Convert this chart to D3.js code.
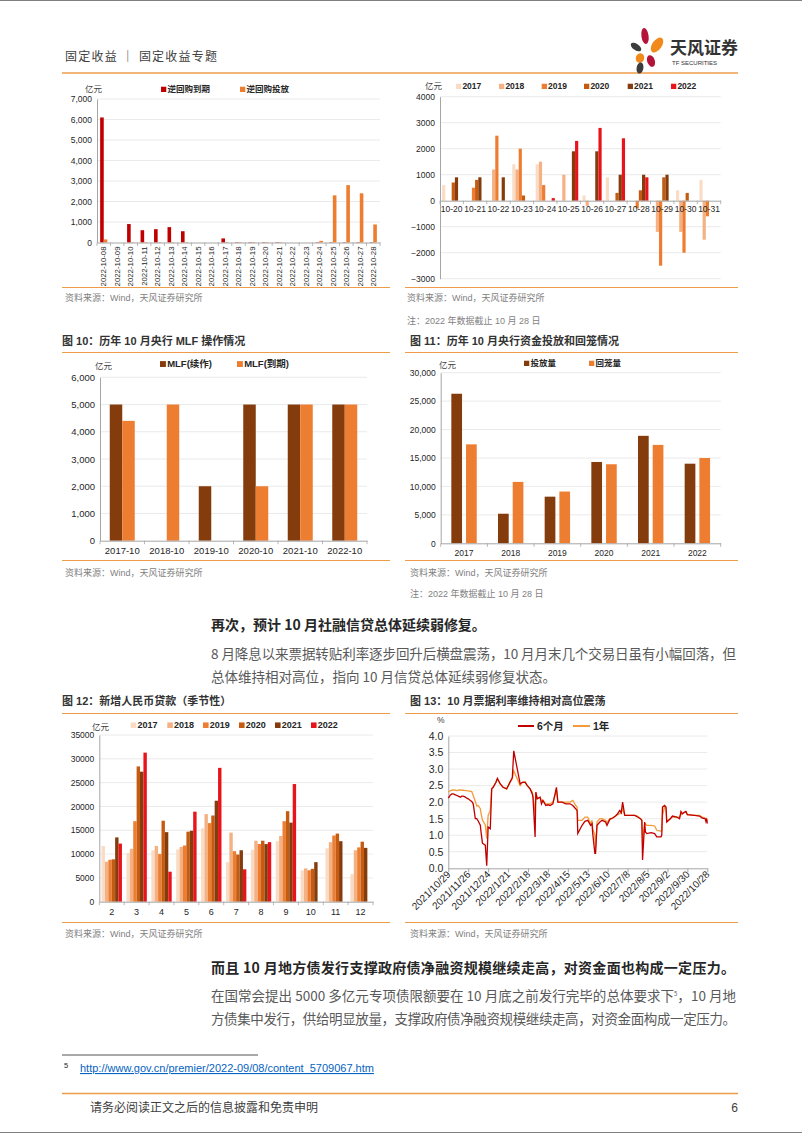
<!DOCTYPE html>
<html><head><meta charset="utf-8">
<script src="https://cdn.jsdelivr.net/npm/d3@7/dist/d3.min.js"></script>
<style>html,body{margin:0;padding:0;background:#fff;}svg{display:block;}</style>
</head><body>
<svg id="page" width="802" height="1133" xmlns="http://www.w3.org/2000/svg"></svg>
<script>
// ================= DATA =================
// Chart A: reverse repo, Oct 2022
const rrDates = ["2022-10-08","2022-10-09","2022-10-10","2022-10-11","2022-10-12","2022-10-13","2022-10-14","2022-10-15","2022-10-16","2022-10-17","2022-10-18","2022-10-19","2022-10-20","2022-10-21","2022-10-22","2022-10-23","2022-10-24","2022-10-25","2022-10-26","2022-10-27","2022-10-28"];
const rrMaturity  = [6100,0,900,600,650,750,550,0,0,200,20,20,20,20,0,0,20,20,20,20,20];
const rrInjection = [150,0,20,20,20,20,20,0,0,20,20,20,20,20,0,0,80,2300,2800,2400,880];
const rrLegend = ["逆回购到期","逆回购投放"];
const rrTicks = [0,1000,2000,3000,4000,5000,6000,7000];

// Chart B: net injection by day, late October of each year
const netDays = ["10-20","10-21","10-22","10-23","10-24","10-25","10-26","10-27","10-28","10-29","10-30","10-31"];
const yearNames = ["2017","2018","2019","2020","2021","2022"];
const net2017 = [600,0,0,1400,1400,0,200,900,0,0,400,800];
const net2018 = [0,0,1200,1200,1500,1000,-200,0,0,-1200,-1200,-1500];
const net2019 = [0,500,2500,2000,600,0,0,0,-300,-2500,-2000,-600];
const net2020 = [700,800,0,200,0,0,0,300,400,900,300,0];
const net2021 = [900,900,900,0,0,1900,1900,1000,1000,1000,0,0];
const net2022 = [0,0,0,0,100,2300,2800,2400,900,0,0,0];
const netTicks = [-3000,-2000,-1000,0,1000,2000,3000,4000];

// Fig 10: MLF
const mlfMonths = ["2017-10","2018-10","2019-10","2020-10","2021-10","2022-10"];
const mlfRollover = [5000,0,2000,5000,5000,5000];
const mlfMaturity = [4400,5000,0,2000,5000,5000];
const mlfLegend = ["MLF(续作)","MLF(到期)"];
const mlfTicks = [0,1000,2000,3000,4000,5000,6000];

// Fig 11: injection / withdrawal
const flowYears = ["2017","2018","2019","2020","2021","2022"];
const flowInjection  = [26300,5200,8200,14300,18900,14000];
const flowWithdrawal = [17400,10800,9100,13900,17300,15000];
const flowLegend = ["投放量","回笼量"];
const flowTicks = [0,5000,10000,15000,20000,25000,30000];

// Fig 12: new RMB loans
const loanMonths = ["2","3","4","5","6","7","8","9","10","11","12"];
const loan2017 = [11700,10200,10800,11000,15400,8300,10900,12700,6600,11200,5800];
const loan2018 = [8400,11100,11700,11500,18400,14500,12800,13800,7000,12500,10800];
const loan2019 = [8800,16900,10000,11800,16500,10600,12100,16900,6600,13900,11400];
const loan2020 = [8900,28400,17000,14700,18100,9900,12800,19000,6900,14300,12600];
const loan2021 = [13500,27300,14600,14900,21200,10800,12100,16600,8300,12700,11300];
const loan2022 = [12200,31300,6300,18900,28100,6800,12500,24700,null,null,null];
const loanTicks = [0,5000,10000,15000,20000,25000,30000,35000];

// Fig 13: bill rates
const billDates = ["2021-10-29","2021-11-01","2021-11-03","2021-11-05","2021-11-08","2021-11-10","2021-11-12","2021-11-15","2021-11-17","2021-11-19","2021-11-22","2021-11-24","2021-11-26","2021-11-29","2021-12-01","2021-12-03","2021-12-06","2021-12-08","2021-12-10","2021-12-13","2021-12-14","2021-12-16","2021-12-20","2021-12-22","2021-12-24","2021-12-27","2021-12-29","2021-12-31","2022-01-04","2022-01-06","2022-01-10","2022-01-14","2022-01-19","2022-01-24","2022-01-26","2022-01-27","2022-01-29","2022-02-07","2022-02-10","2022-02-14","2022-02-17","2022-02-21","2022-02-24","2022-02-25","2022-02-28","2022-03-01","2022-03-03","2022-03-07","2022-03-09","2022-03-11","2022-03-15","2022-03-18","2022-03-21","2022-03-25","2022-03-28","2022-03-30","2022-04-01","2022-04-07","2022-04-12","2022-04-18","2022-04-22","2022-04-26","2022-04-28","2022-04-29","2022-05-05","2022-05-09","2022-05-13","2022-05-17","2022-05-19","2022-05-20","2022-05-23","2022-05-24","2022-05-26","2022-05-30","2022-06-02","2022-06-07","2022-06-09","2022-06-13","2022-06-17","2022-06-21","2022-06-24","2022-06-27","2022-06-29","2022-07-01","2022-07-04","2022-07-11","2022-07-18","2022-07-22","2022-07-26","2022-07-28","2022-07-29","2022-08-01","2022-08-02","2022-08-04","2022-08-10","2022-08-15","2022-08-18","2022-08-24","2022-08-25","2022-08-26","2022-08-29","2022-08-31","2022-09-01","2022-09-06","2022-09-09","2022-09-15","2022-09-19","2022-09-21","2022-09-23","2022-09-26","2022-09-28","2022-09-30","2022-10-10","2022-10-17","2022-10-21","2022-10-25","2022-10-26","2022-10-27","2022-10-28"];
const bill6M = [2.12,2.22,2.25,2.25,2.22,2.20,2.18,2.15,2.18,2.18,2.15,2.12,2.10,2.05,2.02,1.95,1.50,1.50,1.43,1.30,1.10,0.76,0.70,0.08,1.25,1.20,2.40,2.45,2.60,2.72,2.55,2.45,2.40,2.62,2.70,2.75,3.55,2.55,2.60,2.60,2.50,2.40,2.25,2.15,0.95,2.30,2.10,2.15,1.95,2.05,1.90,1.92,1.90,1.95,2.25,2.45,2.00,2.00,1.95,1.95,1.90,1.80,1.75,1.05,1.30,1.42,1.45,1.30,1.35,1.05,0.45,0.45,1.30,1.40,1.45,1.40,1.30,1.48,1.52,1.58,1.65,1.75,1.68,2.00,1.60,1.60,1.60,1.55,1.50,1.45,0.25,1.40,1.10,1.05,1.08,1.05,0.95,0.95,1.00,1.85,1.90,1.85,1.40,1.50,1.58,1.55,1.50,1.72,1.65,1.70,1.72,1.62,1.60,1.58,1.52,1.50,1.42,1.50,1.35];
const bill1Y = [2.30,2.35,2.36,2.37,2.36,2.35,2.36,2.37,2.36,2.36,2.35,2.35,2.34,2.33,2.32,2.20,2.02,1.88,1.90,1.80,1.67,1.46,1.31,0.90,1.60,1.75,2.42,2.45,2.60,2.70,2.55,2.45,2.40,2.60,2.68,2.70,2.95,2.50,2.60,2.62,2.50,2.40,2.30,2.20,1.65,2.30,2.10,2.15,2.05,2.05,1.95,1.95,1.95,2.00,2.20,2.35,2.00,2.00,2.00,2.00,2.05,1.90,1.85,1.45,1.45,1.55,1.55,1.35,1.45,1.20,1.00,0.60,1.40,1.50,1.50,1.45,1.38,1.50,1.52,1.58,1.62,1.65,1.66,1.80,1.60,1.60,1.60,1.58,1.50,1.45,0.80,1.35,1.35,1.30,1.30,1.28,1.15,1.12,1.15,1.60,1.85,1.80,1.42,1.50,1.55,1.55,1.55,1.62,1.65,1.68,1.70,1.62,1.60,1.60,1.55,1.52,1.48,1.50,1.42];
const billLegend = ["6个月","1年"];
const billTicksY = [0,0.5,1,1.5,2,2.5,3,3.5,4];
const billTicksX = ["2021/10/29","2021/11/26","2021/12/24","2022/1/21","2022/2/18","2022/3/18","2022/4/15","2022/5/13","2022/6/10","2022/7/8","2022/8/5","2022/9/2","2022/9/30","2022/10/28"];

// ================= DRAWING =================
const svg = d3.select("#page");
const FONT = "'Liberation Sans','Noto Sans CJK SC',Arial,sans-serif";
const CJK = "'Noto Sans CJK SC','Liberation Sans',sans-serif";
svg.attr("font-family", FONT);
const ORL = "#EE9B4A";
const AXC = "#A6A6A6";
const GRID = "#E4E4E4";
const yearColors = ["#FADCC6","#F4B183","#ED7D31","#C55A11","#843C0C","#E8141B"];
const BROWN = "#843C0C", ORANGE = "#ED7D31";

function txt(x, y, s, o = {}) {
  const t = svg.append("text").attr("x", x).attr("y", y).text(s)
    .attr("font-size", o.size || 10).attr("fill", o.color || "#333")
    .attr("font-weight", o.bold ? "bold" : "normal")
    .attr("text-anchor", o.anchor || "start")
    .attr("font-family", o.cjk ? CJK : FONT);
  if (o.len) t.attr("textLength", o.len).attr("lengthAdjust", "spacing");
  return t;
}
function hl(x1, x2, y, c, w) {
  svg.append("line").attr("x1", x1).attr("x2", x2).attr("y1", y).attr("y2", y)
    .attr("stroke", c).attr("stroke-width", w);
}
function legendSq(x, y, c, label, fs) {
  svg.append("rect").attr("x", x).attr("y", y - fs * 0.62).attr("width", fs * 0.62).attr("height", fs * 0.62).attr("fill", c);
  txt(x + fs * 0.75, y, label, { size: fs, bold: true, color: "#262626" });
}

function grouped(o) {
  const x = d3.scaleBand().domain(o.cats).range([o.left, o.right]);
  const y = d3.scaleLinear().domain(o.domain).range(o.rangeY);
  const g = svg.append("g");
  g.append("g").selectAll("line").data(o.ticks.filter(t => t !== 0)).join("line")
    .attr("x1", o.left).attr("x2", o.right).attr("y1", d => y(d)).attr("y2", d => y(d))
    .attr("stroke", GRID).attr("stroke-width", 0.8);
  const n = o.series.length, gw = n * o.barW + (n - 1) * o.gap;
  o.series.forEach((s, i) => {
    g.append("g").selectAll("rect")
      .data(s.map((v, j) => ({ c: o.cats[j], v })).filter(d => d.v != null && d.v !== 0))
      .join("rect")
      .attr("x", d => x(d.c) + x.bandwidth() / 2 - gw / 2 + i * (o.barW + o.gap))
      .attr("width", o.barW)
      .attr("y", d => Math.min(y(d.v), y(0)))
      .attr("height", d => Math.abs(y(d.v) - y(0)))
      .attr("fill", o.colors[i]);
  });
  const ya = g.append("g").attr("transform", `translate(${o.left},0)`)
    .call(d3.axisLeft(y).tickValues(o.ticks).tickFormat(o.fmt).tickSize(0).tickPadding(5).tickSizeOuter(0));
  ya.attr("font-family", FONT).attr("font-size", o.fs);
  ya.select(".domain").attr("stroke", AXC);
  ya.selectAll("text").attr("fill", "#262626");
  const bounds = o.cats.map(c => x(c)).concat([o.right]);
  g.append("g").selectAll("line").data(bounds).join("line")
    .attr("x1", d => d).attr("x2", d => d).attr("y1", y(0)).attr("y2", y(0) + 3.5)
    .attr("stroke", AXC).attr("stroke-width", 0.8);
  const xa = g.append("g").attr("transform", `translate(0,${y(0)})`)
    .call(d3.axisBottom(x).tickSize(0).tickPadding(o.xPad || 6).tickSizeOuter(0));
  xa.attr("font-family", FONT).attr("font-size", o.xfs || o.fs);
  xa.select(".domain").attr("stroke", AXC);
  xa.selectAll("text").attr("fill", "#262626");
  return { x, y, g, xa };
}

// ---------- Header ----------
hl(0, 802, 0.5, "#7F7F7F", 1);
txt(65, 61, "固定收益 ｜ 固定收益专题", { size: 12, color: "#404040", cjk: true, len: 152 });
hl(62, 738, 73, ORL, 1.6);
// logo
const logo = svg.append("g");
[[645,36,3.6,8,-8,"#B5123A"],[657,45,4.8,8.5,35,"#F08A1D"],[636,47,3.2,6,-55,"#3C3C3C"],[640,58,4.2,4.8,20,"#F08A1D"],[651,61,3.8,6,-20,"#B5123A"],[640,68,3.4,5.5,10,"#3C3C3C"]]
  .forEach(p => logo.append("ellipse").attr("cx", p[0]).attr("cy", p[1]).attr("rx", p[2]).attr("ry", p[3])
    .attr("transform", `rotate(${p[4]},${p[0]},${p[1]})`).attr("fill", p[5]));
txt(670, 54, "天风证券", { size: 17, bold: true, color: "#333", cjk: true });
txt(672, 65, "TF SECURITIES", { size: 6, color: "#333" });

// ---------- Chart A ----------
{
  const c = grouped({ cats: rrDates, series: [rrMaturity, rrInjection], colors: ["#C00000", ORANGE],
    left: 97, right: 380, domain: [0, 7000], rangeY: [242.5, 99], ticks: rrTicks, fmt: d3.format(","),
    barW: 3.6, gap: 0, fs: 8.5 });
  c.xa.selectAll("text").attr("transform", "rotate(-90)").attr("text-anchor", "end")
    .attr("x", -4).attr("y", 0).attr("dy", "0.35em").attr("font-size", 7.8);
  txt(85, 92, "亿元", { size: 8.5, color: "#404040", cjk: true });
  legendSq(161, 92, "#C00000", rrLegend[0], 8.5);
  legendSq(240, 92, ORANGE, rrLegend[1], 8.5);
  hl(62, 390, 287.5, ORL, 1);
  txt(65, 301, "资料来源：Wind，天风证券研究所", { size: 9, color: "#7F7F7F" });
}

// ---------- Chart B ----------
{
  grouped({ cats: netDays, series: [net2017, net2018, net2019, net2020, net2021, net2022], colors: yearColors,
    left: 440, right: 720.7, domain: [-3000, 4000], rangeY: [278.7, 96.7], ticks: netTicks, fmt: d3.format("d"),
    barW: 3.2, gap: 0, fs: 8.5, xPad: 5, xfs: 8.5 });
  txt(425, 89, "亿元", { size: 8.5, color: "#404040", cjk: true });
  yearNames.forEach((yn, i) => legendSq([456, 499, 541.7, 584, 627.7, 671][i], 89, yearColors[i], yn, 8.5));
  hl(405, 738, 287.5, ORL, 1);
  txt(407, 301, "资料来源：Wind，天风证券研究所", { size: 9, color: "#7F7F7F" });
  txt(407, 324, "注：2022 年数据截止 10 月 28 日", { size: 9, color: "#7F7F7F" });
}

// ---------- Fig 10 ----------
{
  txt(62, 345, "图 10：历年 10 月央行 MLF 操作情况", { size: 11, bold: true, color: "#333" });
  hl(62, 390, 352.5, ORL, 1);
  grouped({ cats: mlfMonths, series: [mlfRollover, mlfMaturity], colors: [BROWN, ORANGE],
    left: 100, right: 367, domain: [0, 6000], rangeY: [540.7, 377.3], ticks: mlfTicks, fmt: d3.format(","),
    barW: 12.5, gap: 0, fs: 9.5, xPad: 7 });
  txt(95, 369, "亿元", { size: 8.5, color: "#404040", cjk: true });
  legendSq(160, 367, BROWN, mlfLegend[0], 9.5);
  legendSq(237, 367, ORANGE, mlfLegend[1], 9.5);
  hl(62, 390, 560.5, ORL, 1);
  txt(65, 576, "资料来源：Wind，天风证券研究所", { size: 9, color: "#7F7F7F" });
}

// ---------- Fig 11 ----------
{
  txt(410, 345, "图 11：历年 10 月央行资金投放和回笼情况", { size: 11, bold: true, color: "#333" });
  hl(405, 738, 352.5, ORL, 1);
  grouped({ cats: flowYears, series: [flowInjection, flowWithdrawal], colors: [BROWN, ORANGE],
    left: 440.7, right: 720.7, domain: [0, 30000], rangeY: [543.3, 372.7], ticks: flowTicks, fmt: d3.format(","),
    barW: 10.7, gap: 4, fs: 8.5, xPad: 7 });
  txt(439, 368, "亿元", { size: 8.5, color: "#404040", cjk: true });
  legendSq(524, 366, BROWN, flowLegend[0], 8.5);
  legendSq(589, 366, ORANGE, flowLegend[1], 8.5);
  hl(405, 738, 560.5, ORL, 1);
  txt(410, 576, "资料来源：Wind，天风证券研究所", { size: 9, color: "#7F7F7F" });
  txt(410, 597, "注：2022 年数据截止 10 月 28 日", { size: 9, color: "#7F7F7F" });
}

// ---------- Text block 1 ----------
txt(211, 630, "再次，预计 10 月社融信贷总体延续弱修复。", { size: 14, bold: true, color: "#262626", cjk: true });
txt(211, 659, "8 月降息以来票据转贴利率逐步回升后横盘震荡，10 月月末几个交易日虽有小幅回落，但", { size: 13.5, color: "#595959", cjk: true, len: 525 });
txt(211, 682, "总体维持相对高位，指向 10 月信贷总体延续弱修复状态。", { size: 13.5, color: "#595959", cjk: true });

// ---------- Fig 12 ----------
{
  txt(62, 705, "图 12：新增人民币贷款（季节性）", { size: 11, bold: true, color: "#333" });
  hl(62, 390, 713.5, ORL, 1);
  grouped({ cats: loanMonths, series: [loan2017, loan2018, loan2019, loan2020, loan2021, loan2022], colors: yearColors,
    left: 99.3, right: 373, domain: [0, 35000], rangeY: [901.7, 735], ticks: loanTicks, fmt: d3.format("d"),
    barW: 3.4, gap: 0, fs: 8.5, xPad: 7, xfs: 9 });
  txt(92, 730, "亿元", { size: 8.5, color: "#404040", cjk: true });
  yearNames.forEach((yn, i) => legendSq([130.7, 167.3, 203, 239, 275, 311][i], 728, yearColors[i], yn, 9));
  hl(62, 390, 922.5, ORL, 1);
  txt(65, 937, "资料来源：Wind，天风证券研究所", { size: 9, color: "#7F7F7F" });
}

// ---------- Fig 13 ----------
{
  txt(410, 705, "图 13：10 月票据利率维持相对高位震荡", { size: 11, bold: true, color: "#333" });
  hl(405, 738, 713.5, ORL, 1);
  const pd = d3.timeParse("%Y-%m-%d"), pt = d3.timeParse("%Y/%m/%d");
  const tickDates = billTicksX.map(pt);
  const x = d3.scaleTime().domain([tickDates[0], tickDates[tickDates.length - 1]]).range([448.3, 707.3]);
  const y = d3.scaleLinear().domain([0, 4]).range([868.3, 736]);
  const g = svg.append("g");
  g.append("g").selectAll("line").data(billTicksY.filter(t => t > 0)).join("line")
    .attr("x1", 448.3).attr("x2", 707.3).attr("y1", d => y(d)).attr("y2", d => y(d))
    .attr("stroke", GRID).attr("stroke-width", 0.8);
  const ya = g.append("g").attr("transform", "translate(448.3,0)")
    .call(d3.axisLeft(y).tickValues(billTicksY).tickFormat(d3.format(".1f")).tickSize(0).tickPadding(5).tickSizeOuter(0));
  ya.attr("font-family", FONT).attr("font-size", 10.5);
  ya.select(".domain").attr("stroke", AXC);
  ya.selectAll("text").attr("fill", "#262626");
  const xa = g.append("g").attr("transform", "translate(0,868.3)")
    .call(d3.axisBottom(x).tickValues(tickDates).tickFormat((d, i) => billTicksX[i]).tickSize(4).tickSizeOuter(0));
  xa.attr("font-family", FONT).attr("font-size", 10);
  xa.select(".domain").attr("stroke", AXC);
  xa.selectAll("line").attr("stroke", AXC);
  xa.selectAll("text").attr("fill", "#262626").attr("transform", "rotate(-45)")
    .attr("text-anchor", "end").attr("x", -3).attr("y", 3).attr("dy", "0.35em");
  const pts = billDates.map((d, i) => ({ t: pd(d), a: bill6M[i], b: bill1Y[i] }));
  const lineB = d3.line().x(d => x(d.t)).y(d => y(d.b));
  const lineA = d3.line().x(d => x(d.t)).y(d => y(d.a));
  g.append("path").attr("d", lineB(pts)).attr("fill", "none").attr("stroke", "#F39A3A").attr("stroke-width", 1.3);
  g.append("path").attr("d", lineA(pts)).attr("fill", "none").attr("stroke", "#C00000").attr("stroke-width", 1.3);
  txt(437, 723, "%", { size: 8.5, color: "#404040" });
  svg.append("line").attr("x1", 518).attr("x2", 534).attr("y1", 726).attr("y2", 726).attr("stroke", "#C00000").attr("stroke-width", 2);
  txt(537, 730, billLegend[0], { size: 10.5, bold: true, color: "#262626" });
  svg.append("line").attr("x1", 573).attr("x2", 590).attr("y1", 726).attr("y2", 726).attr("stroke", "#F39A3A").attr("stroke-width", 2);
  txt(593, 730, billLegend[1], { size: 10.5, bold: true, color: "#262626" });
  hl(405, 738, 922.5, ORL, 1);
  txt(410, 937, "资料来源：Wind，天风证券研究所", { size: 9, color: "#7F7F7F" });
}

// ---------- Text block 2 ----------
txt(211, 973, "而且 10 月地方债发行支撑政府债净融资规模继续走高，对资金面也构成一定压力。", { size: 14, bold: true, color: "#262626", cjk: true, len: 524 });
{
  const t = txt(211, 1001, "", { size: 13.5, color: "#595959", cjk: true, len: 525 });
  t.append("tspan").text("在国常会提出 5000 多亿元专项债限额要在 10 月底之前发行完毕的总体要求下");
  t.append("tspan").text("5").attr("font-size", 6).attr("dy", -5);
  t.append("tspan").text("，10 月地").attr("dy", 5);
}
txt(211, 1024, "方债集中发行，供给明显放量，支撑政府债净融资规模继续走高，对资金面构成一定压力。", { size: 13.5, color: "#595959", cjk: true, len: 525 });

// ---------- Footnote & footer ----------
hl(62, 258, 1055, "#262626", 0.8);
txt(64, 1068, "5", { size: 7.5, color: "#262626" });
txt(80, 1072, "http://www.gov.cn/premier/2022-09/08/content_5709067.htm", { size: 11, color: "#0563C1" }).attr("text-decoration", "underline");
hl(62, 738, 1093.5, ORL, 1.6);
txt(90, 1112, "请务必阅读正文之后的信息披露和免责申明", { size: 12, color: "#404040", cjk: true });
txt(738, 1112, "6", { size: 12, color: "#404040", anchor: "end" });
hl(0, 802, 1132.5, "#7F7F7F", 1);
</script>
</body></html>
